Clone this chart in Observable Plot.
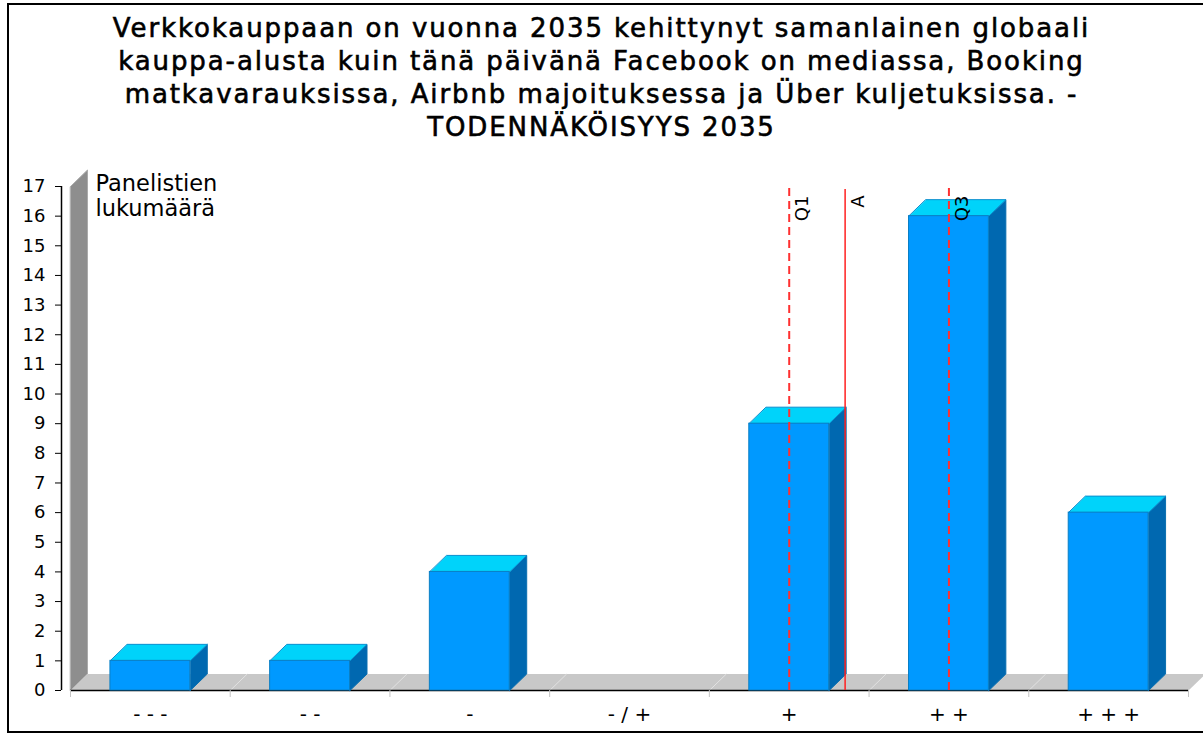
<!DOCTYPE html>
<html>
<head>
<meta charset="utf-8">
<script src="https://cdn.jsdelivr.net/npm/d3@7"></script>
<script src="https://cdn.jsdelivr.net/npm/@observablehq/plot@0.6"></script>
<style>
  html, body { margin: 0; padding: 0; background: #fff; overflow: hidden; }
  #page { position: relative; width: 1203px; height: 734px; }
  #frame { position: absolute; left: 7px; top: 3px; width: 1210px; height: 726px;
           border-left: 2px solid #000; border-top: 2px solid #000; border-bottom: 2px solid #000; }
  #title { position: absolute; top: 12px; left: 0; width: 1203px; text-align: center;
           font-family: "DejaVu Sans", sans-serif; font-weight: normal; font-size: 26px;
           -webkit-text-stroke: 0.6px #000;
           line-height: 33px; letter-spacing: 1.9px; color: #000; }
  #chart { position: absolute; top: 160px; left: 0; }
</style>
</head>
<body>
<div id="page">
  <div id="frame"></div>
  <div id="title"></div>
  <div id="chart"></div>
</div>
<script>
// ---- data ----
const titleLines = [
  "Verkkokauppaan on vuonna 2035 kehittynyt samanlainen globaali",
  "kauppa-alusta kuin tänä päivänä Facebook on mediassa, Booking",
  "matkavarauksissa, Airbnb majoituksessa ja Über kuljetuksissa. -",
  "TODENNÄKÖISYYS 2035"
];
const categories = ["- - -", "- -", "-", "- / +", "+", "+ +", "+ + +"];
const counts = [1, 1, 4, 0, 9, 16, 6];
const yTicks = [0, 1, 2, 3, 4, 5, 6, 7, 8, 9, 10, 11, 12, 13, 14, 15, 16, 17];
const yLabel = "Panelistien\nlukumäärä";
const markerLabels = ["Q1", "A", "Q3"];
const markerValues = [5, 5.35, 6];
const markerDashed = [true, false, true];

// ---- layout ----
document.getElementById("title").innerHTML = titleLines.join("<br>");

const W = 1203, H = 574, ML = 70, MR = 15, MT = 26, MB = 44;
const yMax = yTicks[yTicks.length - 1];
const xDomain = [0.5, categories.length + 0.5];
const pxPerX = (W - ML - MR) / (xDomain[1] - xDomain[0]);
const pxPerY = (H - MT - MB) / yMax;
const dX = 17 / pxPerX;     // 3D depth, horizontal
const dY = 16.5 / pxPerY;   // 3D depth, vertical
const half = 0.25;          // half bar width in category units

const bars = categories.map((c, i) => ({c, x: i + 1, v: counts[i]})).filter(d => d.v > 0);
const poly = (id, pts) => pts.map(([x, y]) => ({id, x, y}));
const tops = bars.flatMap(d => poly(d.c, [
  [d.x - half, d.v], [d.x + half, d.v], [d.x + half + dX, d.v + dY], [d.x - half + dX, d.v + dY]
]));
const sides = bars.flatMap(d => poly(d.c, [
  [d.x + half, 0], [d.x + half + dX, dY], [d.x + half + dX, d.v + dY], [d.x + half, d.v]
]));
const x0 = xDomain[0], x1 = xDomain[1];
const wall = poly("wall", [[x0, 0], [x0 + dX, dY], [x0 + dX, yMax + dY], [x0, yMax]]);
const floor = poly("floor", [[x0, 0], [x1, 0], [x1 + dX, dY], [x0 + dX, dY]]);
const boundaries = d3.range(xDomain[0], xDomain[1] + 0.01, 1);
const markers = markerLabels.map((l, i) => ({l, v: markerValues[i], dashed: markerDashed[i]}));

const chart = Plot.plot({
  width: W, height: H,
  marginLeft: ML, marginRight: MR, marginTop: MT, marginBottom: MB,
  style: {fontFamily: "DejaVu Sans, sans-serif", background: "transparent", color: "#000"},
  x: {type: "linear", domain: xDomain, axis: null},
  y: {domain: [0, yMax], axis: null},
  marks: [
    Plot.line(wall, {x: "x", y: "y", z: "id", fill: "#8e8e8e", stroke: "#ababab", strokeWidth: 1, curve: "linear-closed"}),
    Plot.line(floor, {x: "x", y: "y", z: "id", fill: "#c8c8c8", stroke: "none", curve: "linear-closed"}),
    Plot.link(boundaries.slice(1, -1), {x1: d => d, y1: 0, x2: d => d + dX, y2: dY, stroke: "#e2e2e2", strokeWidth: 1}),
    Plot.ruleY([0], {stroke: "#000", strokeWidth: 1.5}),
    Plot.line(sides, {x: "x", y: "y", z: "id", fill: "#0068b0", stroke: "#0a6fb0", strokeWidth: 1, curve: "linear-closed"}),
    Plot.line(tops, {x: "x", y: "y", z: "id", fill: "#00d3fa", stroke: "#0a8fcf", strokeWidth: 1, curve: "linear-closed"}),
    Plot.rect(bars, {x1: d => d.x - half, x2: d => d.x + half, y1: 0, y2: "v", fill: "#0099ff", stroke: "#0a7fc4", strokeWidth: 1}),
    Plot.ruleX(markers.filter(d => d.dashed), {x: "v", y1: 0, y2: yMax, stroke: "#ff3030", strokeWidth: 2, strokeDasharray: "8,5"}),
    Plot.ruleX(markers.filter(d => !d.dashed), {x: "v", y1: 0, y2: yMax, insetBottom: -3, stroke: "#ff2020", strokeWidth: 1.5}),
    Plot.text(markers, {x: "v", y: yMax, text: "l", rotate: -90, textAnchor: "end", dx: 13, dy: 9, fontSize: 18, fill: "#000"}),
    Plot.ruleX([x0], {y1: 0, y2: yMax, dx: -9, stroke: "#000", strokeWidth: 1.5}),
    Plot.axisY({ticks: yTicks, tickSize: 6, tickPadding: 10, dx: -9, fontSize: 18, tickFormat: d => String(d), color: "#000", label: null}),
    Plot.axisX({ticks: boundaries, tickSize: 7, tickFormat: () => "", stroke: "#c4c4c4", label: null}),
    Plot.axisX({ticks: categories.map((c, i) => i + 1), tickSize: 0, tickPadding: 16, fontSize: 20,
                tickFormat: d => categories[d - 1], color: "#000", label: null}),
    Plot.text([yLabel], {frameAnchor: "top-left", dx: 25, dy: -13, textAnchor: "start", lineAnchor: "top",
                         fontSize: 22.5, lineHeight: 1.1, fill: "#000"})
  ]
});
document.getElementById("chart").appendChild(chart);
</script>
</body>
</html>
